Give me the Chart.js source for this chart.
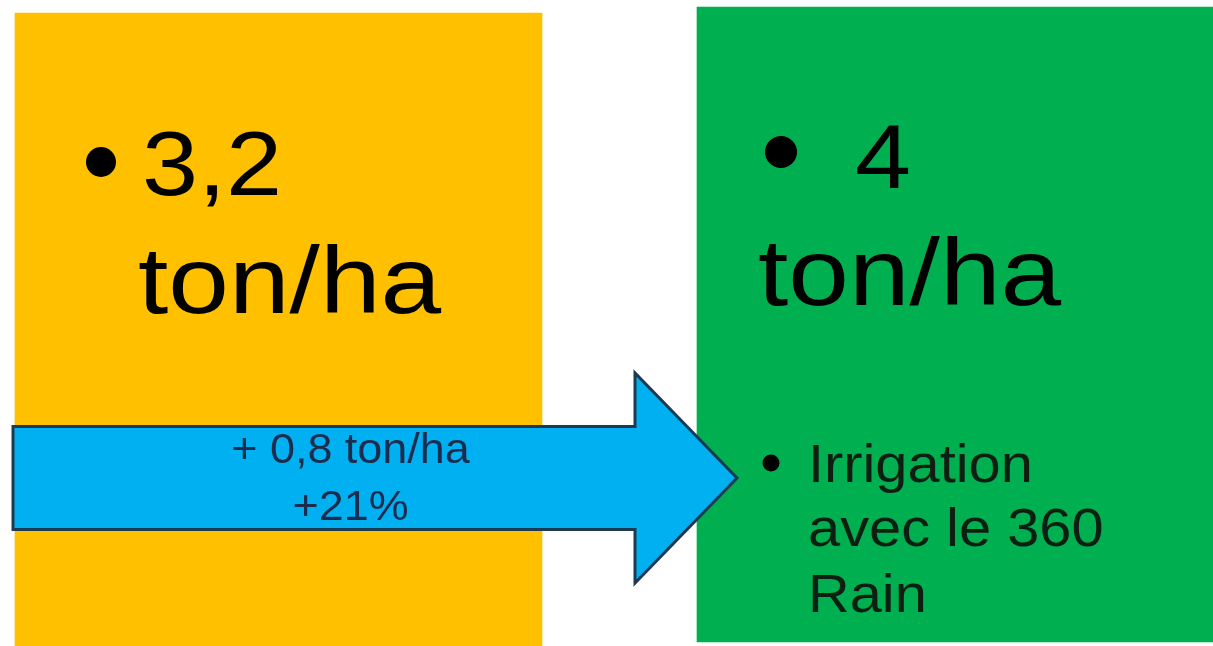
<!DOCTYPE html>
<html>
<head>
<meta charset="utf-8">
<script src="https://cdn.jsdelivr.net/npm/chart.js@4.4.1/dist/chart.umd.min.js"></script>
<style>
  html, body { margin: 0; padding: 0; background: #ffffff; }
  #wrap { width: 1213px; height: 646px; position: relative; }
</style>
</head>
<body>
<div id="wrap"><canvas id="c"></canvas></div>
<script>
// ---------- data ----------
const categories = ["Sans irrigation", "Irrigation avec le 360 Rain"];
const yields = [3.2, 4];
const unitLabel = "ton/ha";
const gainPercentLabel = "+21%";
const noteLines = ["Irrigation", "avec le 360", "Rain"];

// ---------- layout / style (not data) ----------
const boxSpans = [[0, 0.9799], [0.0062, 0.9892]];
const boxColors = ["#FFC000", "#00B050"];
const FONT = "'Liberation Sans', Arial, sans-serif";

function fr(v) { return String(Math.round(v * 10) / 10).replace('.', ','); }
const yieldLabels = yields.map(fr);
const gainLabel = "+ " + fr(yields[1] - yields[0]) + " " + unitLabel;

function stretchText(ctx, text, x, y, size, sx, color, align) {
  ctx.save();
  ctx.font = size + "px " + FONT;
  ctx.fillStyle = color;
  ctx.textBaseline = "alphabetic";
  const w = ctx.measureText(text).width * sx;
  let left = x;
  if (align === "center") left = x - w / 2;
  ctx.translate(left, y);
  ctx.scale(sx, 1);
  ctx.textAlign = "left";
  ctx.fillText(text, 0, 0);
  ctx.restore();
}
function dot(ctx, x, y, r, color) {
  ctx.save();
  ctx.fillStyle = color;
  ctx.beginPath();
  ctx.arc(x, y, r, 0, Math.PI * 2);
  ctx.fill();
  ctx.restore();
}

const overlay = {
  id: "overlay",
  afterDatasetsDraw(chart) {
    const ctx = chart.ctx;
    const bars = chart.getDatasetMeta(0).data;
    const L = bars[0], R = bars[1];
    const lLeft = L.x - L.width / 2, lTop = L.y;
    const rLeft = R.x - R.width / 2, rTop = R.y;

    // left box texts
    dot(ctx, lLeft + 86, lTop + 149, 15, "#000");
    stretchText(ctx, yieldLabels[0], lLeft + 127, lTop + 182, 90, 1.12, "#000");
    stretchText(ctx, unitLabel, lLeft + 123, lTop + 300, 94, 1.16, "#000");

    // right box texts
    dot(ctx, rLeft + 84, rTop + 145, 16, "#000");
    stretchText(ctx, yieldLabels[1], rLeft + 158, rTop + 181, 90, 1.12, "#000");
    stretchText(ctx, unitLabel, rLeft + 61, rTop + 298, 94, 1.16, "#000");

    // note
    dot(ctx, rLeft + 74, rTop + 456, 8.5, "#000");
    const nb = [475, 539, 605];
    noteLines.forEach((t, i) => stretchText(ctx, t, rLeft + 111, rTop + nb[i], 54, 1.07, "#0d1f12"));

    // arrow
    const x0 = lLeft - 2, xh = rLeft - 62, xt = rLeft + 40;
    const yc = 478, sh = 51.5, hh = 105;
    ctx.save();
    ctx.beginPath();
    ctx.moveTo(x0, yc - sh);
    ctx.lineTo(xh, yc - sh);
    ctx.lineTo(xh, yc - hh);
    ctx.lineTo(xt, yc);
    ctx.lineTo(xh, yc + hh);
    ctx.lineTo(xh, yc + sh);
    ctx.lineTo(x0, yc + sh);
    ctx.closePath();
    ctx.fillStyle = "#00B0F0";
    ctx.fill();
    ctx.lineWidth = 3;
    ctx.lineJoin = "miter";
    ctx.strokeStyle = "#1c3a52";
    ctx.stroke();
    ctx.restore();

    const cx = L.x + 72;
    stretchText(ctx, gainLabel, cx, 463, 42, 1.07, "#1b2d4f", "center");
    stretchText(ctx, gainPercentLabel, cx, 520, 42, 1.07, "#1b2d4f", "center");
  }
};

const unit = 682;
const xMin = -278.5 / unit;

new Chart(document.getElementById("c"), {
  type: "bar",
  data: {
    datasets: [{
      label: "Rendement",
      data: categories.map((c, i) => ({ x: i, y: boxSpans[i] })),
      backgroundColor: boxColors,
      borderWidth: 0,
      barThickness: 527
    }]
  },
  options: {
    responsive: true,
    maintainAspectRatio: false,
    animation: false,
    layout: { padding: 0 },
    plugins: { legend: { display: false }, tooltip: { enabled: false }, title: { display: false } },
    scales: {
      x: { type: "linear", display: false, offset: false, grid: { offset: false }, min: xMin, max: xMin + 1213 / unit },
      y: { type: "linear", display: false, min: 0, max: 1 }
    }
  },
  plugins: [overlay]
});
</script>
</body>
</html>
